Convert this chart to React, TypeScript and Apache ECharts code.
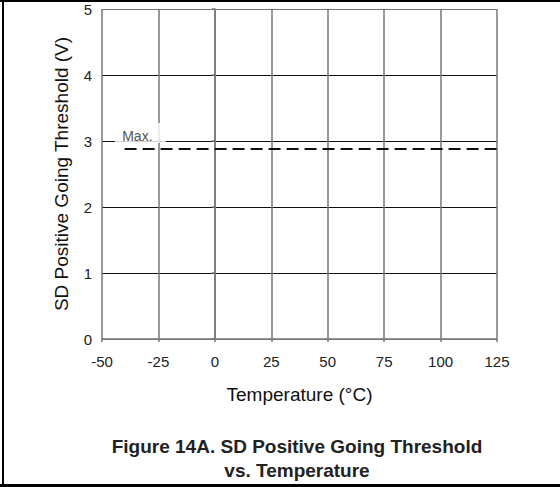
import React, { useEffect, useRef } from "react";
import * as echarts from "echarts";

const xTicks = [-50, -25, 0, 25, 50, 75, 100, 125];
const yTicks = [0, 1, 2, 3, 4, 5];
const maxLineX = [-40, 125];
const maxLineY = [2.88, 2.88];
const maxLabelPos = [-33, 3.12];
const maxLabelText = "Max.";
const xName = "Temperature (°C)";
const yName = "SD Positive Going Threshold (V)";
const titleLines = ["Figure 14A. SD Positive Going Threshold", "vs. Temperature"];

const FONT = "'Liberation Sans', Arial, sans-serif";

export default function App() {
  const ref = useRef<HTMLDivElement>(null);
  useEffect(() => {
    if (!ref.current) return;
    const chart = echarts.init(ref.current, null, { renderer: "svg" });
    chart.setOption({
      animation: false,
      backgroundColor: "#fff",
      grid: { left: 102, top: 9, width: 395, height: 330, containLabel: false },
      xAxis: {
        type: "value",
        min: xTicks[0],
        max: xTicks[xTicks.length - 1],
        interval: 25,
        name: xName,
        nameLocation: "middle",
        nameGap: 46,
        nameTextStyle: { fontFamily: FONT, fontSize: 19, color: "#111" },
        axisLine: { lineStyle: { color: "#777", width: 1.5 } },
        axisTick: { show: true, length: 3, inside: false, lineStyle: { color: "#777", width: 1.5 } },
        axisLabel: { margin: 15, fontFamily: FONT, fontSize: 15, color: "#222" },
        splitLine: { show: true, lineStyle: { color: "#777", width: 1.5 } },
      },
      yAxis: {
        type: "value",
        min: yTicks[0],
        max: yTicks[yTicks.length - 1],
        interval: 1,
        name: yName,
        nameLocation: "middle",
        nameGap: 31,
        nameTextStyle: { fontFamily: FONT, fontSize: 19, color: "#111" },
        axisLine: { show: true, lineStyle: { color: "#777", width: 1.5 } },
        axisTick: { show: true, length: 3, inside: false, lineStyle: { color: "#777", width: 1.5 } },
        axisLabel: { margin: 10, fontFamily: FONT, fontSize: 15, color: "#222" },
        splitLine: {
          show: true,
          lineStyle: { color: ["#777", "#111", "#111", "#111", "#111", "#777"], width: 1 },
        },
      },
      series: [
        {
          type: "line",
          data: maxLineX.map((x, i) => [x, maxLineY[i]]),
          symbol: "none",
          lineStyle: { color: "#111", width: 2, type: [12, 6] },
          z: 3,
        },
        {
          type: "scatter",
          data: [maxLabelPos],
          symbol: "rect",
          symbolSize: [51, 20],
          itemStyle: { color: "#fff" },
          label: {
            show: true,
            position: "inside",
            formatter: maxLabelText,
            offset: [-3, 3],
            fontFamily: FONT,
            fontSize: 14,
            color: "#222",
          },
          z: 4,
        },
      ],
      graphic: [
        {
          type: "text",
          x: 297,
          y: 434,
          style: {
            text: titleLines.join("\n"),
            font: `bold 19px ${FONT}`,
            fill: "#222",
            textAlign: "center",
            textVerticalAlign: "top",
            lineHeight: 24,
          },
        },
        { type: "rect", shape: { x: 2, y: 0, width: 2, height: 487 }, style: { fill: "#000" } },
        { type: "rect", shape: { x: 0, y: 0, width: 560, height: 2 }, style: { fill: "#000" } },
        { type: "rect", shape: { x: 0, y: 484, width: 560, height: 3 }, style: { fill: "#000" } },
      ],
    });
    return () => chart.dispose();
  }, []);
  return (
    <div
      ref={ref}
      style={{ position: "fixed", left: 0, top: 0, width: 560, height: 487 }}
    />
  );
}
